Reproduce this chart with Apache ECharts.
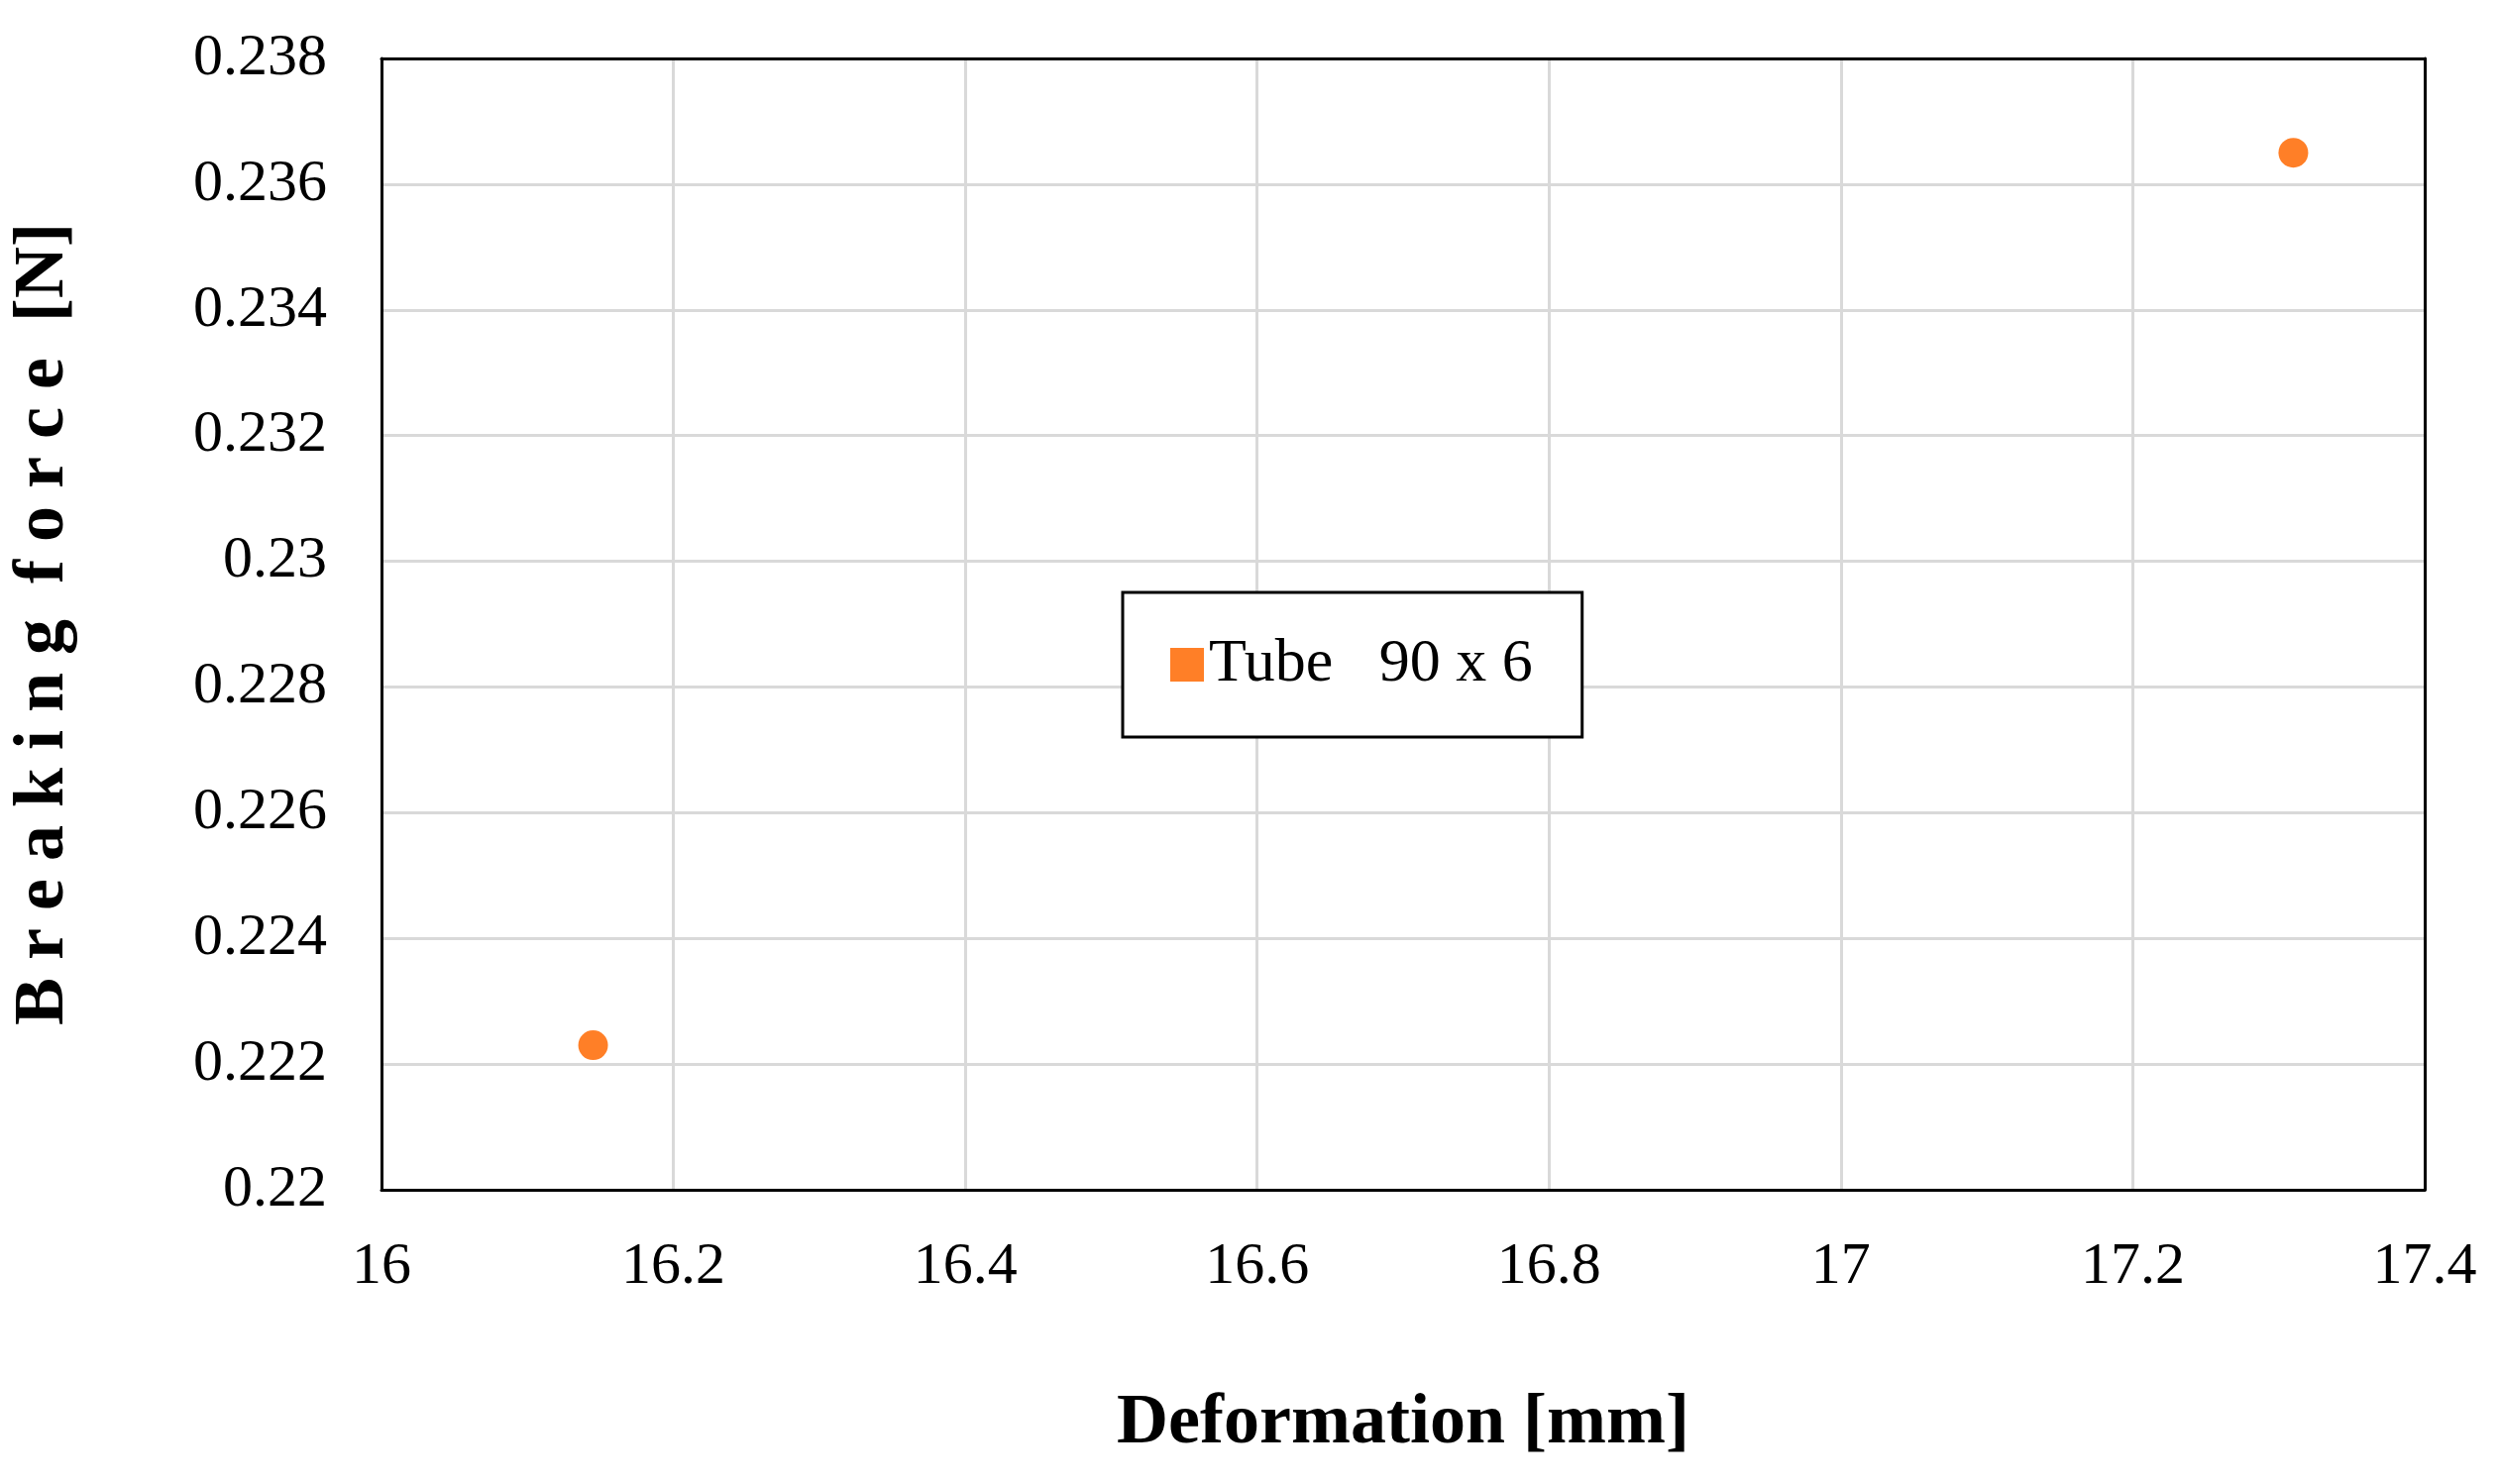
<!DOCTYPE html>
<html>
<head>
<meta charset="utf-8">
<script src="https://cdn.jsdelivr.net/npm/echarts@6/dist/echarts.min.js"></script>
<style>html,body{margin:0;padding:0;background:#fff}#c{width:2523px;height:1498px}</style>
</head>
<body>
<div id="c"></div>
<script>
// deformation [mm], breaking force [N]
const deformation = [16.145, 17.31];
const force = [0.2223, 0.2365];
const seriesName = 'Tube   90 x 6';

const chart = echarts.init(document.getElementById('c'));
const font = '"Liberation Serif", "Times New Roman", serif';
const grey = { show: true, lineStyle: { color: '#d9d9d9', width: 3 } };
const frame = { show: true, lineStyle: { color: '#000', width: 3 } };

chart.setOption({
  backgroundColor: '#fff',
  textStyle: { fontFamily: font },
  grid: { left: 379, right: 76, top: 59, bottom: 297 },
  legend: {
    left: 1133, top: 598,
    padding: [42, 50, 42, 48],
    backgroundColor: '#fff', borderColor: '#000', borderWidth: 3,
    icon: 'rect', itemWidth: 34, itemHeight: 34,
    textStyle: { fontFamily: font, fontSize: 62, color: '#000' },
    data: [seriesName]
  },
  xAxis: [{
    type: 'value', min: 16, max: 17.4, interval: 0.2,
    name: 'Deformation [mm]', nameLocation: 'middle', nameGap: 200,
    nameTextStyle: { fontFamily: font, fontSize: 72, fontWeight: 'bold', color: '#000' },
    axisLine: frame, axisTick: { show: false },
    axisLabel: { fontSize: 60, color: '#000', margin: 48, formatter: v => +v.toFixed(1) + '' },
    splitLine: grey
  }, {
    type: 'value', position: 'top', min: 16, max: 17.4, interval: 0.2,
    axisLine: frame, axisTick: { show: false }, axisLabel: { show: false }, splitLine: { show: false }
  }],
  yAxis: [{
    type: 'value', min: 0.22, max: 0.238, interval: 0.002,
    name: 'B r e a k i n g  f o r c e  [N]', nameLocation: 'middle', nameGap: 305,
    nameTextStyle: { fontFamily: font, fontSize: 72, fontWeight: 'bold', color: '#000' },
    axisLine: frame, axisTick: { show: false },
    axisLabel: { fontSize: 60, color: '#000', margin: 55, formatter: v => +v.toFixed(3) + '' },
    splitLine: grey
  }, {
    type: 'value', position: 'right', min: 0.22, max: 0.238, interval: 0.002,
    axisLine: frame, axisTick: { show: false }, axisLabel: { show: false }, splitLine: { show: false }
  }],
  series: [{
    name: seriesName, type: 'scatter', symbol: 'circle', symbolSize: 30,
    itemStyle: { color: '#ff7f27', opacity: 1 },
    data: deformation.map((d, i) => [d, force[i]])
  }]
});
</script>
</body>
</html>
